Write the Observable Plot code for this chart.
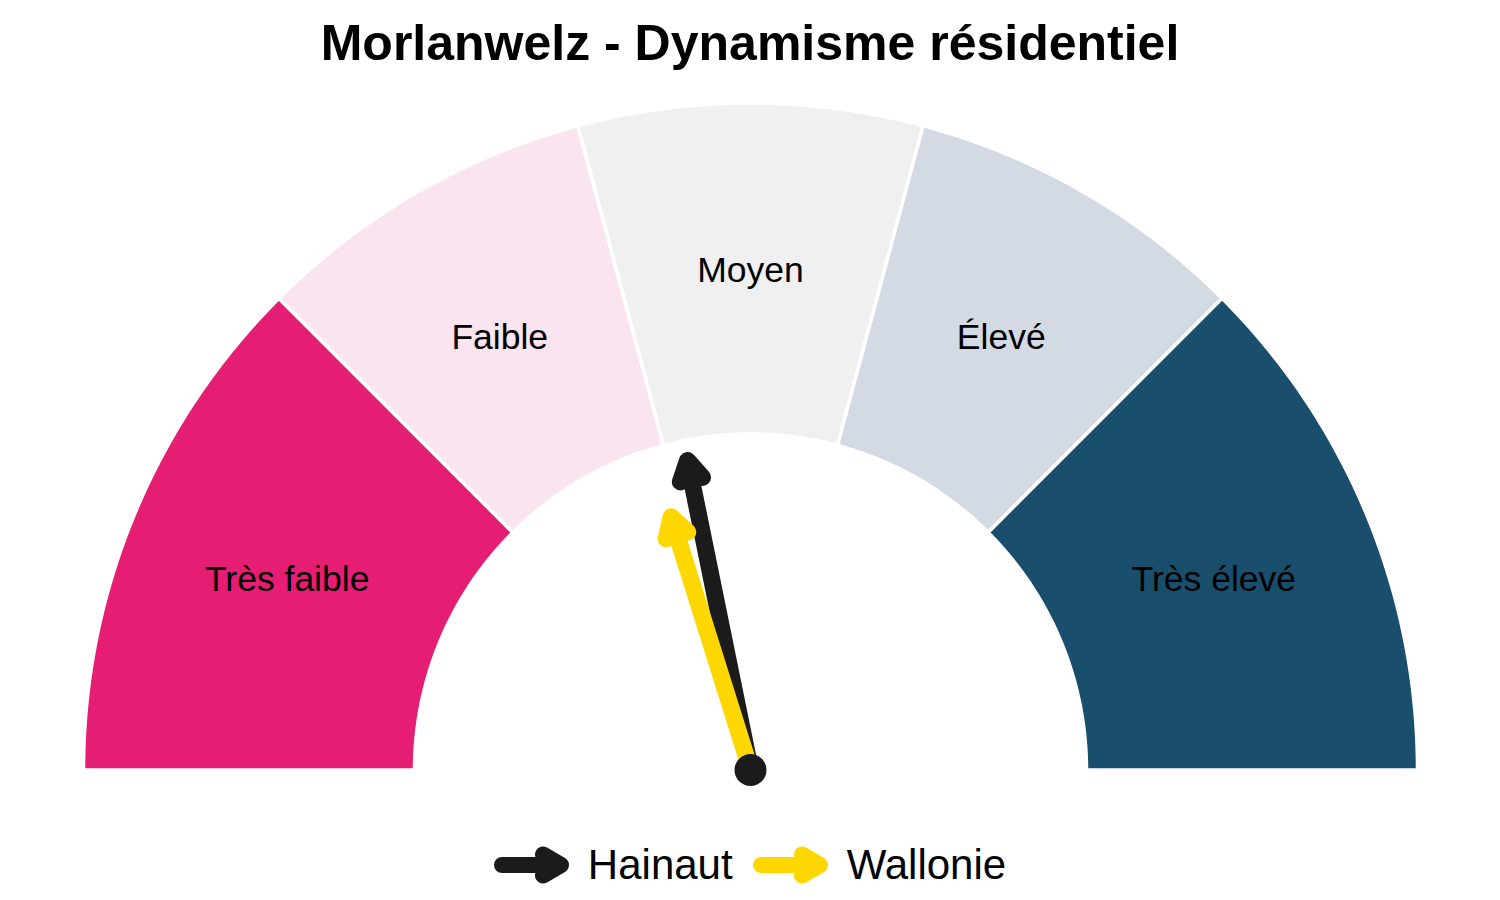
<!DOCTYPE html>
<html>
<head>
<meta charset="utf-8">
<script src="https://cdn.jsdelivr.net/npm/d3@7"></script>
<script src="https://cdn.jsdelivr.net/npm/@observablehq/plot@0.6"></script>
<style>
  html, body { margin: 0; padding: 0; background: #ffffff; }
  body { width: 1500px; height: 900px; overflow: hidden; font-family: "Liberation Sans", Arial, sans-serif; }
  #title { height: 86px; line-height: 86px; text-align: center; font-size: 50px; font-weight: bold; color: #000; }
  #chart svg { display: block; }
  #legend { height: 90px; display: flex; justify-content: center; align-items: center; font-size: 42px; color: #000; }
  #legend .item { display: flex; align-items: center; }
  #legend svg { display: block; margin-right: 18px; }
  #legend .item + .item { margin-left: 20px; }
</style>
</head>
<body>
<div id="title">Morlanwelz - Dynamisme résidentiel</div>
<div id="chart"></div>
<div id="legend"></div>
<script>
// ---- data ----
const categories = ["Très faible", "Faible", "Moyen", "Élevé", "Très élevé"];
const breaks = [0, 45, 75, 105, 135, 180];          // gauge position (0 = left, 180 = right)
const needleNames = ["Hainaut", "Wallonie"];
const needleValues = [78.5, 72.6];                  // gauge position of each needle

// ---- styles / layout ----
const sectorColors = ["#E61E73", "#FAE4EF", "#F0F0F0", "#D3DAE3", "#194E6C"];
const needleColors = ["#1b1b1b", "#FFD700"];
const needleLengthFactor = [0.94, 0.79];            // fraction of inner radius
const W = 1500, H = 734;
const cx = 750, cy = 683.5;                         // gauge centre in svg pixels
const rOuter = 667, rInner = 336;

function toXY(pos, r) {
  const t = Math.PI * (1 - pos / 180);
  return {x: r * Math.cos(t), y: r * Math.sin(t)};
}

const marks = [];
categories.forEach((cat, i) => {
  const b0 = breaks[i], b1 = breaks[i + 1];
  const N = 80;
  const pts = [];
  for (let k = 0; k <= N; k++) pts.push(toXY(b0 + (b1 - b0) * k / N, rOuter));
  for (let k = N; k >= 0; k--) pts.push(toXY(b0 + (b1 - b0) * k / N, rInner));
  marks.push(Plot.line(pts, {x: "x", y: "y", curve: "linear-closed", fill: sectorColors[i], stroke: "white", strokeWidth: 3.5}));
});

const labels = categories.map((c, i) => ({label: c, ...toXY((breaks[i] + breaks[i + 1]) / 2, (rOuter + rInner) / 2)}));
marks.push(Plot.text(labels, {x: "x", y: "y", text: "label", fontSize: 35.5, dy: 2, fill: "#000", fontFamily: "Liberation Sans, Arial, sans-serif"}));

needleNames.forEach((n, i) => {
  const tip = toXY(needleValues[i], rInner * needleLengthFactor[i]);
  marks.push(Plot.arrow([{name: n, ...tip}], {
    x1: () => 0, y1: () => 0, x2: "x", y2: "y",
    stroke: needleColors[i], strokeWidth: 17, headLength: 2.0, headAngle: 60
  }));
});
marks.push(Plot.dot([{x: 0, y: 0}], {x: "x", y: "y", r: 16, fill: "#1b1b1b", stroke: "none"}));

const chart = Plot.plot({
  width: W, height: H,
  marginTop: 0, marginRight: 0, marginBottom: 0, marginLeft: 0,
  x: {domain: [-cx, W - cx], axis: null},
  y: {domain: [-(H - cy), cy], axis: null},
  style: {background: "white", fontFamily: "Liberation Sans, Arial, sans-serif", overflow: "visible"},
  marks
});
document.getElementById("chart").appendChild(chart);

// ---- legend ----
const legend = document.getElementById("legend");
needleNames.forEach((n, i) => {
  const item = document.createElement("div");
  item.className = "item";
  const c = needleColors[i];
  item.innerHTML = `<svg width="76" height="40" viewBox="0 0 76 40">
      <path d="M8,20 L67,20 M49,9.5 L67,20 L49,30.5" fill="none" stroke="${c}" stroke-width="16" stroke-linecap="round" stroke-linejoin="round"/>
    </svg><span>${n}</span>`;
  legend.appendChild(item);
});
</script>
</body>
</html>
